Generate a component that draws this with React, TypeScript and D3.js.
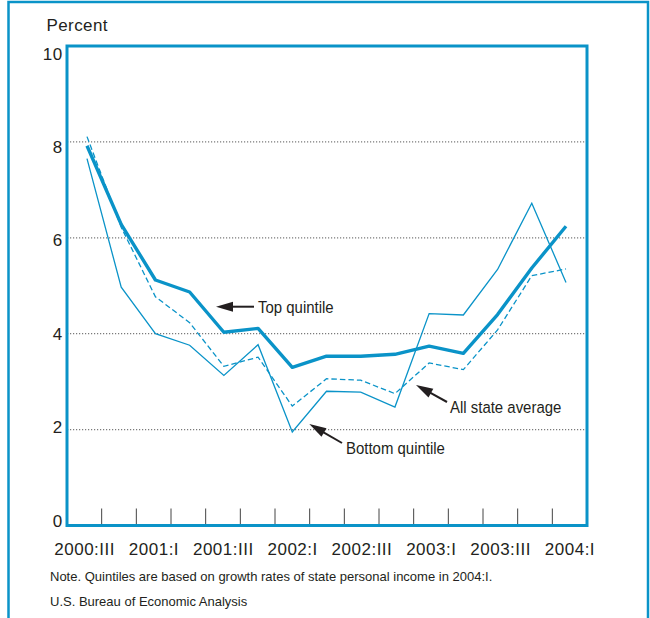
import React from "react";
import * as d3 from "d3";

const quarters = [
  "2000:III", "2000:IV", "2001:I", "2001:II", "2001:III", "2001:IV", "2002:I", "2002:II",
  "2002:III", "2002:IV", "2003:I", "2003:II", "2003:III", "2003:IV", "2004:I",
];
const labeledQuarters = ["2000:III", "2001:I", "2001:III", "2002:I", "2002:III", "2003:I", "2003:III", "2004:I"];
const topQuintile = [7.92, 6.28, 5.12, 4.87, 4.03, 4.11, 3.3, 3.53, 3.53, 3.57, 3.74, 3.59, 4.4, 5.37, 6.24];
const bottomQuintile = [7.65, 4.97, 4.0, 3.76, 3.13, 3.77, 1.95, 2.8, 2.78, 2.47, 4.42, 4.39, 5.34, 6.72, 5.07];
const allStateAverage = [8.11, 6.22, 4.77, 4.23, 3.32, 3.51, 2.49, 3.06, 3.03, 2.75, 3.39, 3.25, 4.08, 5.21, 5.35];
const yTicks = [0, 2, 4, 6, 8, 10];
const gridValues = [2, 4, 6, 8];

const BLUE = "#0a93c8";
const INK = "#231f20";
const FONT = "'Liberation Sans', Arial, Helvetica, sans-serif";

export default function App() {
  const plotLeft = 67;
  const plotRight = 587;
  const y = d3.scaleLinear().domain([0, 10]).range([525.5, 46]);
  const yLabel = d3.scaleLinear().domain([0, 10]).range([526.5, 59.5]);
  const band = d3.scaleBand<string>().domain(quarters).range([plotLeft, plotRight]).padding(0);
  const x = d3.scalePoint<string>().domain(quarters).range([87, 566]);

  const line = d3
    .line<number>()
    .x((_, i) => x(quarters[i]) as number)
    .y((d) => y(d));

  const tickQuarters = quarters.slice(1);

  const arrow = (tipX: number, tipY: number, tailX: number, tailY: number) => {
    const ang = Math.atan2(tipY - tailY, tipX - tailX);
    const len = 17;
    const hw = 5;
    const bx = tipX - len * Math.cos(ang);
    const by = tipY - len * Math.sin(ang);
    const px = -Math.sin(ang) * hw;
    const py = Math.cos(ang) * hw;
    return (
      <g>
        <line x1={tailX} y1={tailY} x2={bx + 2 * Math.cos(ang)} y2={by + 2 * Math.sin(ang)} stroke={INK} strokeWidth={2} />
        <polygon points={`${tipX},${tipY} ${bx + px},${by + py} ${bx - px},${by - py}`} fill={INK} />
      </g>
    );
  };

  const annot = (tx: number, ty: number, text: string) => (
    <g transform={`translate(${tx},${ty}) scale(0.88,1)`}>
      <text x={0} y={0} fontSize={17} fill={INK} fontFamily={FONT}>
        {text}
      </text>
    </g>
  );

  return (
    <svg
      width={650}
      height={618}
      style={{ position: "absolute", left: 0, top: 0, background: "#fff" }}
      fontFamily={FONT}
    >
      <rect x={8.5} y={2} width={639.5} height={700} fill="none" stroke={BLUE} strokeWidth={2.5} />

      <text x={46.5} y={30.5} fontSize={17} letterSpacing={0.4} fill={INK}>
        Percent
      </text>

      {gridValues.map((v) => (
        <line
          key={v}
          x1={plotLeft}
          x2={plotRight}
          y1={y(v)}
          y2={y(v)}
          stroke="#7a7a7a"
          strokeWidth={1.2}
          strokeDasharray="1.2,1.8"
        />
      ))}

      {tickQuarters.map((q) => (
        <line
          key={q}
          x1={band(q) as number}
          x2={band(q) as number}
          y1={y(0) - 17}
          y2={y(0)}
          stroke="#444"
          strokeWidth={1}
        />
      ))}

      {yTicks.map((v) => (
        <text key={v} x={62.5} y={yLabel(v)} fontSize={17} letterSpacing={0.4} textAnchor="end" fill={INK}>
          {v}
        </text>
      ))}

      {labeledQuarters.map((q) => (
        <text
          key={q}
          x={(band(q) as number) + band.bandwidth() / 2 + 0.3}
          y={554.5}
          fontSize={17}
          letterSpacing={0.5}
          textAnchor="middle"
          fill={INK}
        >
          {q}
        </text>
      ))}

      <path d={line(allStateAverage) || ""} fill="none" stroke={BLUE} strokeWidth={1.3} strokeDasharray="5.5,3" />
      <path d={line(bottomQuintile) || ""} fill="none" stroke={BLUE} strokeWidth={1.3} />
      <path d={line(topQuintile) || ""} fill="none" stroke={BLUE} strokeWidth={3.4} strokeLinejoin="round" />

      <rect x={plotLeft} y={y(10)} width={plotRight - plotLeft} height={y(0) - y(10)} fill="none" stroke={BLUE} strokeWidth={3} />

      {arrow(216, 306.7, 254, 306.7)}
      {annot(258, 312.5, "Top quintile")}
      {arrow(416, 385, 447, 402)}
      {annot(450, 413.3, "All state average")}
      {arrow(309.3, 424, 342, 443)}
      {annot(346, 454, "Bottom quintile")}

      <text x={50} y={580.5} fontSize={13} fill={INK}>
        Note. Quintiles are based on growth rates of state personal income in 2004:I.
      </text>
      <text x={50} y={606} fontSize={13} fill={INK}>
        U.S. Bureau of Economic Analysis
      </text>
    </svg>
  );
}
